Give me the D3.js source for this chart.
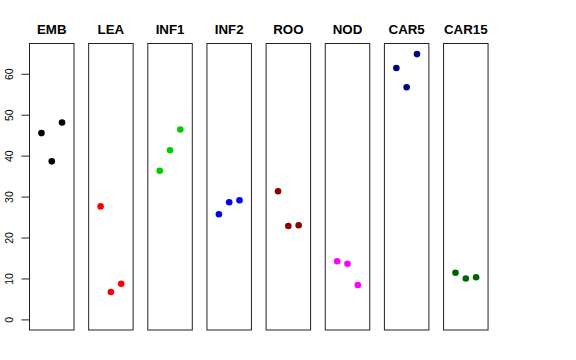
<!DOCTYPE html>
<html><head><meta charset="utf-8">
<script src="https://cdn.jsdelivr.net/npm/d3@7"></script>
<style>body{margin:0;background:#fff}svg{display:block}</style>
</head><body>
<script>
const categories = ["EMB","LEA","INF1","INF2","ROO","NOD","CAR5","CAR15"];
const colors = ["#000000","#FF0000","#00CD00","#0000FF","#8B0000","#FF00FF","#000080","#006400"];
const values = [
  [45.5, 38.6, 48.1],
  [27.6, 6.7, 8.7],
  [36.3, 41.3, 46.4],
  [25.7, 28.6, 29.1],
  [31.3, 22.8, 23.0],
  [14.2, 13.6, 8.4],
  [61.4, 56.7, 64.8],
  [11.4, 10.0, 10.3]
];
const yTicks = [0, 10, 20, 30, 40, 50, 60];

(function () {
const W = 576, H = 360;
const svg = d3.select("body").append("svg").attr("width", W).attr("height", H);
const font = "'Liberation Sans', Arial, Helvetica, sans-serif";

const plotTop = 43.5, plotBottom = 330;
const y = d3.scaleLinear().domain([-2.59, 67.39]).range([plotBottom, plotTop]);
const panelX = d3.scaleBand().domain(categories).range([29, 29 + 59.15 * 8]).paddingInner(0).paddingOuter(0);
const panelW = 44.5;
const x = d3.scaleLinear().domain([-0.16, 4.16]).range([0, panelW]);

categories.forEach((c, i) => {
  const g = svg.append("g").attr("transform", `translate(${panelX(c)},0)`);
  g.append("rect").attr("x", 0.5).attr("y", plotTop).attr("width", panelW).attr("height", plotBottom - plotTop)
    .attr("fill", "none").attr("stroke", "#222").attr("stroke-width", 1);
  g.append("text").attr("x", panelW / 2 + 0.5).attr("y", 34).attr("text-anchor", "middle")
    .attr("font-family", font).attr("font-weight", "bold").attr("font-size", 13.3).text(c);
  g.selectAll("circle").data(values[i]).join("circle")
    .attr("cx", (d, j) => x(j + 1) + 0.5).attr("cy", d => y(d)).attr("r", 3.3)
    .attr("fill", colors[i]);
});

const ax = svg.append("g").attr("transform", `translate(29.5,0)`)
  .call(d3.axisLeft(y).tickValues(yTicks).tickSize(8).tickSizeOuter(0).tickPadding(0).tickFormat(d3.format("d")));
ax.select(".domain").remove();
ax.append("line").attr("x1", 0).attr("x2", 0).attr("y1", y(0)).attr("y2", y(60)).attr("stroke", "#222");
ax.selectAll(".tick line").attr("stroke", "#222");
ax.selectAll(".tick text").remove();
ax.selectAll(".tick").append("text")
  .attr("transform", "translate(-16.8,0) rotate(-90)")
  .attr("text-anchor", "middle").attr("fill", "#000")
  .attr("font-family", font).attr("font-size", 10.5).text(d => d);
})();
</script>
</body></html>
